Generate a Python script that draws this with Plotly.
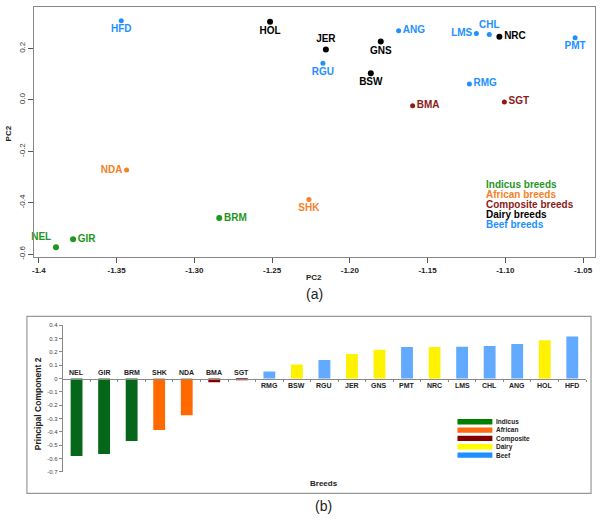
import plotly.graph_objects as go

# ---------------- data: panel (a) scatter ----------------
breeds_a = ["HFD", "HOL", "JER", "RGU", "GNS", "BSW", "ANG", "LMS", "CHL", "NRC",
            "PMT", "RMG", "BMA", "SGT", "NDA", "BRM", "GIR", "NEL", "SHK"]
pc1_a = [-1.347, -1.2513, -1.2154, -1.2173, -1.1801, -1.1865, -1.1686, -1.1186, -1.1103, -1.1038,
         -1.0551, -1.1231, -1.1596, -1.1006, -1.3436, -1.284, -1.378, -1.389, -1.2263]
pc2_a = [0.308, 0.304, 0.196, 0.142, 0.227, 0.104, 0.269, 0.258, 0.254, 0.246,
         0.242, 0.062, -0.023, -0.008, -0.273, -0.46, -0.542, -0.573, -0.388]
group_a = ["Beef", "Dairy", "Dairy", "Beef", "Dairy", "Dairy", "Beef", "Beef", "Beef", "Dairy",
           "Beef", "Beef", "Composite", "Composite", "African", "Indicus", "Indicus", "Indicus", "African"]

# ---------------- data: panel (b) bars ----------------
breeds_b = ["NEL", "GIR", "BRM", "SHK", "NDA", "BMA", "SGT", "RMG", "BSW", "RGU",
            "JER", "GNS", "PMT", "NRC", "LMS", "CHL", "ANG", "HOL", "HFD"]
pc2_b = [-0.581, -0.566, -0.469, -0.387, -0.275, -0.027, -0.012, 0.052, 0.106, 0.139,
         0.184, 0.216, 0.236, 0.236, 0.238, 0.245, 0.26, 0.288, 0.315]
group_b = ["Indicus", "Indicus", "Indicus", "African", "African", "Composite", "Composite", "Beef", "Dairy", "Beef",
           "Dairy", "Dairy", "Beef", "Dairy", "Beef", "Beef", "Beef", "Dairy", "Beef"]

groups = ["Indicus", "African", "Composite", "Dairy", "Beef"]
xticks_a = [-1.4, -1.35, -1.30, -1.25, -1.20, -1.15, -1.10, -1.05]
xticktext_a = ["-1.4", "-1.35", "-1.30", "-1.25", "-1.20", "-1.15", "-1.10", "-1.05"]
yticks_a = [0.2, 0.0, -0.2, -0.4, -0.6]
yticktext_a = ["0.2", "0.0", "-0.2", "-0.4", "-0.6"]
yticks_b = [0.4, 0.3, 0.2, 0.1, 0.0, -0.1, -0.2, -0.3, -0.4, -0.5, -0.6, -0.7]
yticktext_b = ["0.4", "0.3", "0.2", "0.1", "0", "-0.1", "-0.2", "-0.3", "-0.4", "-0.5", "-0.6", "-0.7"]

# ---------------- styles ----------------
W, H = 600, 520
FONT = "Liberation Sans, Arial, sans-serif"
col_a = {"Indicus": "#1f961f", "African": "#f5821f", "Composite": "#8b1a1a",
         "Dairy": "#000000", "Beef": "#1e90ff"}
col_b = {"Indicus": "#05671a", "African": "#ff6a00", "Composite": "#820000",
         "Dairy": "#fff200", "Beef": "#62aaff"}
col_leg_b = {"Indicus": "#008000", "African": "#ff6a10", "Composite": "#800000",
             "Dairy": "#ffff00", "Beef": "#1e8fff"}
label_pos = {"HFD": "bottom center", "HOL": "bottom center", "JER": "top center",
             "RGU": "bottom center", "GNS": "bottom center", "BSW": "bottom center",
             "ANG": "middle right", "LMS": "middle left", "CHL": "top center",
             "NRC": "middle right", "PMT": "bottom center", "RMG": "middle right",
             "BMA": "middle right", "SGT": "middle right", "NDA": "middle left",
             "BRM": "middle right", "GIR": "middle right", "NEL": "top left",
             "SHK": "bottom center"}
msize = {"Indicus": 6, "African": 5, "Composite": 5, "Dairy": 6, "Beef": 5}

def px(x):
    return x / W

def py(y):
    return 1 - y / H

fig = go.Figure()

# panel (a) traces
for g in groups:
    idx = [i for i, gg in enumerate(group_a) if gg == g]
    fig.add_trace(go.Scatter(
        x=[pc1_a[i] for i in idx], y=[pc2_a[i] for i in idx],
        text=[breeds_a[i] for i in idx],
        textposition=[label_pos[breeds_a[i]] for i in idx],
        mode="markers+text",
        marker=dict(color=col_a[g], size=msize[g]),
        textfont=dict(color=col_a[g], size=10, family=FONT, weight="bold"),
        showlegend=False, cliponaxis=False, hoverinfo="skip",
        xaxis="x", yaxis="y"))

# panel (b) bars
fig.add_trace(go.Bar(
    x=breeds_b, y=pc2_b,
    marker=dict(color=[col_b[g] for g in group_b], line=dict(width=0)),
    showlegend=False, xaxis="x2", yaxis="y2", hoverinfo="skip"))

# domains
xa_dom = [px(32), px(595)]
ya_dom = [py(257), py(4)]
xb_dom = [px(61), px(586)]
yb_dom = [py(474.3), py(326)]
yb_rng = [-0.7, 0.4]
zero_pos = yb_dom[0] + (0 - yb_rng[0]) / (yb_rng[1] - yb_rng[0]) * (yb_dom[1] - yb_dom[0])

axis_grey = "#888888"
fig.update_layout(
    width=W, height=H, margin=dict(l=0, r=0, t=0, b=0),
    paper_bgcolor="white", plot_bgcolor="white",
    font=dict(family=FONT, color="#222"),
    bargap=0.57,
    xaxis=dict(domain=xa_dom, range=[-1.4032, -1.0423], anchor="y",
               tickvals=xticks_a, ticktext=xticktext_a, ticks="outside", ticklen=5,
               tickcolor="#555", showgrid=False, zeroline=False,
               showline=True, linecolor=axis_grey, mirror=True, linewidth=1,
               tickfont=dict(size=8, family=FONT, color="#222", weight="bold")),
    yaxis=dict(domain=ya_dom, range=[-0.6115, 0.3615], anchor="x",
               tickvals=yticks_a, ticktext=yticktext_a, ticks="outside", ticklen=5,
               tickcolor="#555", showgrid=False, zeroline=False, tickangle=-90,
               showline=True, linecolor=axis_grey, mirror=True, linewidth=1,
               tickfont=dict(size=8, family=FONT, color="#333")),
    xaxis2=dict(domain=xb_dom, range=[-0.5, 18.5], anchor="free", position=zero_pos,
                type="category", tickson="boundaries", ticks="outside", ticklen=2,
                tickcolor=axis_grey, showticklabels=False, showgrid=False,
                showline=True, linecolor=axis_grey, linewidth=1),
    yaxis2=dict(domain=yb_dom, range=yb_rng, anchor="x2",
                tickvals=yticks_b, ticktext=yticktext_b, ticks="outside", ticklen=3,
                tickcolor=axis_grey, showgrid=False, zeroline=False,
                showline=True, linecolor=axis_grey, linewidth=1,
                tickfont=dict(size=6, family=FONT, color="#444")),
)

def note(xp, yp, text, size, bold=True, color="#222", angle=0, xanchor="center"):
    f = dict(size=size, family=FONT, color=color)
    if bold:
        f["weight"] = "bold"
    return dict(x=px(xp), y=py(yp), xref="paper", yref="paper", text=text,
                showarrow=False, textangle=angle, xanchor=xanchor, yanchor="middle",
                align="left", font=f)

ann = []
# panel (a) legend text
for k, g in enumerate(groups):
    ann.append(note(484, 184 + 10 * k, g + " breeds", 10, color=col_a[g], xanchor="left"))
# panel (a) axis titles + caption
ann.append(note(313, 278, "PC2", 8))
ann.append(note(7, 132, "PC2", 8, angle=-90))
ann.append(note(314, 294, "(a)", 14, bold=False))
# panel (b) category labels
for b, v in zip(breeds_b, pc2_b):
    ann.append(dict(x=b, y=0, xref="x2", yref="y2", text=b, showarrow=False,
                    yshift=6 if v < 0 else -7, xanchor="center", yanchor="middle",
                    font=dict(size=7, family=FONT, color="#222", weight="bold")))
# panel (b) titles
ann.append(note(323, 486, "Breeds", 8))
ann.append(note(36, 405, "Principal Component 2", 8.5, angle=-90))
ann.append(note(323, 509, "(b)", 14, bold=False))
# panel (b) legend text: one block, one line per group
LEG_FS = 6.5
leg_step = 1.3 * LEG_FS
leg_mid = 440.5
ann.append(note(494, leg_mid, "<br>".join(groups), LEG_FS, xanchor="left"))

shapes = []
# chart-area border of panel (b)
shapes.append(dict(type="rect", xref="paper", yref="paper",
                   x0=px(25), x1=px(591), y0=py(496), y1=py(317),
                   line=dict(color="#999999", width=1.2), fillcolor="rgba(0,0,0,0)"))
# panel (b) legend swatches
for k, g in enumerate(groups):
    yc = leg_mid + (k - 2) * leg_step
    shapes.append(dict(type="rect", xref="paper", yref="paper",
                       x0=px(457), x1=px(492), y0=py(yc + 2.7), y1=py(yc - 2.7),
                       line=dict(width=0), fillcolor=col_leg_b[g]))

fig.update_layout(annotations=ann, shapes=shapes)
fig.write_html("out.html", config={"displayModeBar": False},
               post_script="document.body.style.margin='0';document.body.style.overflow='hidden';")
